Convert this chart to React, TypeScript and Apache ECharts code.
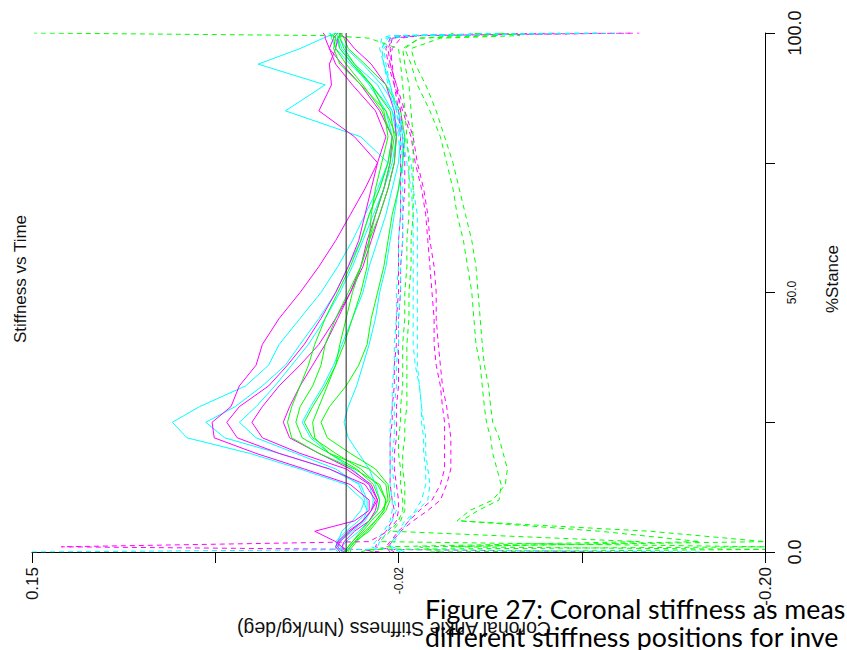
import React, { useEffect, useRef } from "react";
import * as echarts from "echarts";

// % stance sample positions shared by every trace
const STANCE = [0, 0.5, 1, 2, 4, 6, 8, 10, 13, 16, 19, 22, 25, 28, 32, 36, 40, 45, 50, 55, 60, 65, 70, 75, 80, 85, 90, 94, 97, 99, 99.5, 100];

const X_TICKS = [0.15, 0.0625, -0.025, -0.1125, -0.2];
const X_LABEL_VALUES = [0.15, -0.025, -0.2];
const X_LABELS = ["0.15", "-0.02", "-0.20"];
const X_LABEL_STYLE = ["big", "small", "big"];
const Y_LABEL_VALUES = [0, 50, 100];
const Y_LABELS = ["0.0", "50.0", "100.0"];
const Y_LABEL_STYLE = ["big", "small", "big"];

// Solid traces (Coronal ankle stiffness, Nm/kg/deg)
const CYAN_SOLID = [
  [0.004, 0.005, 0.005, 0.004, -0.002, -0.008, -0.010, -0.008, 0.000, 0.022, 0.046, 0.076, 0.083, 0.070, 0.048, 0.037, 0.032, 0.022, 0.012, 0.004, -0.003, -0.009, -0.015, -0.020, -0.022, -0.019, -0.011, -0.003, 0.003, 0.005, 0.006, 0.008],
  [0.002, 0.003, 0.004, 0.005, 0.000, -0.006, -0.010, -0.010, -0.007, 0.008, 0.032, 0.058, 0.067, 0.053, 0.040, 0.029, 0.022, 0.013, 0.005, -0.001, -0.007, -0.011, -0.016, -0.020, -0.007, 0.029, 0.010, 0.042, 0.022, 0.011, 0.008, 0.005],
  [0.000, 0.001, 0.003, 0.004, 0.002, -0.003, -0.007, -0.009, -0.006, 0.005, 0.024, 0.043, 0.051, 0.043, 0.034, 0.026, 0.018, 0.010, 0.003, -0.003, -0.008, -0.013, -0.018, -0.022, -0.024, -0.022, -0.015, -0.004, 0.002, 0.004, 0.004, 0.005],
  [0.003, 0.004, 0.005, 0.003, -0.003, -0.009, -0.012, -0.013, -0.011, -0.003, 0.008, 0.017, 0.021, 0.017, 0.011, 0.006, 0.002, -0.003, -0.008, -0.011, -0.015, -0.019, -0.022, -0.025, -0.026, -0.022, -0.012, -0.002, 0.005, 0.007, 0.007, 0.008],
  [0.001, 0.002, 0.002, 0.000, -0.006, -0.011, -0.015, -0.016, -0.014, -0.011, -0.006, -0.001, 0.001, -0.001, -0.005, -0.008, -0.011, -0.014, -0.016, -0.019, -0.021, -0.023, -0.025, -0.027, -0.027, -0.025, -0.017, -0.008, 0.000, 0.003, 0.003, 0.004],
];
const MAGENTA_SOLID = [
  [0.000, 0.000, 0.002, 0.005, 0.015, -0.004, -0.011, -0.011, -0.002, 0.020, 0.043, 0.063, 0.064, 0.055, 0.051, 0.043, 0.040, 0.032, 0.022, 0.013, 0.005, -0.002, -0.009, -0.015, -0.019, -0.014, -0.003, 0.005, 0.008, 0.006, 0.005, 0.004],
  [0.001, 0.003, 0.004, 0.003, -0.002, -0.008, -0.012, -0.014, -0.009, 0.008, 0.032, 0.052, 0.057, 0.051, 0.037, 0.028, 0.020, 0.012, 0.005, -0.001, -0.006, -0.009, -0.012, -0.015, -0.004, 0.013, 0.007, 0.008, 0.005, 0.004, 0.003, 0.003],
  [0.003, 0.004, 0.005, 0.004, -0.001, -0.008, -0.012, -0.015, -0.012, -0.002, 0.013, 0.027, 0.030, 0.027, 0.022, 0.016, 0.010, 0.004, -0.002, -0.007, -0.010, -0.014, -0.018, -0.021, -0.022, -0.016, -0.007, 0.002, 0.008, 0.010, 0.010, 0.011],
  [0.000, 0.001, 0.002, 0.001, -0.004, -0.011, -0.014, -0.015, -0.011, 0.000, 0.022, 0.040, 0.045, 0.040, 0.032, 0.022, 0.013, 0.005, -0.002, -0.008, -0.012, -0.016, -0.020, -0.023, -0.024, -0.023, -0.019, -0.012, -0.004, 0.000, 0.002, 0.003],
];
const GREEN_SOLID = [
  [0.000, -0.001, -0.002, -0.004, -0.009, -0.014, -0.018, -0.019, -0.016, -0.004, 0.013, 0.026, 0.028, 0.026, 0.022, 0.018, 0.015, 0.010, 0.004, -0.002, -0.007, -0.011, -0.016, -0.020, -0.022, -0.017, -0.008, 0.000, 0.005, 0.006, 0.006, 0.005],
  [0.000, 0.000, -0.001, -0.003, -0.008, -0.012, -0.017, -0.020, -0.019, -0.011, 0.008, 0.021, 0.024, 0.022, 0.016, 0.012, 0.010, 0.005, -0.001, -0.007, -0.011, -0.016, -0.020, -0.023, -0.024, -0.019, -0.007, 0.003, 0.006, 0.005, 0.005, 0.004],
  [-0.002, -0.002, -0.003, -0.005, -0.010, -0.014, -0.018, -0.019, -0.015, -0.007, 0.005, 0.016, 0.020, 0.016, 0.010, 0.005, 0.003, 0.000, -0.003, -0.007, -0.011, -0.014, -0.018, -0.021, -0.023, -0.021, -0.012, -0.003, 0.003, 0.004, 0.003, 0.003],
  [-0.001, -0.001, -0.002, -0.004, -0.011, -0.015, -0.019, -0.021, -0.020, -0.014, -0.002, 0.009, 0.012, 0.008, 0.000, -0.006, -0.010, -0.012, -0.015, -0.018, -0.020, -0.022, -0.025, -0.027, -0.028, -0.026, -0.019, -0.009, -0.001, 0.001, 0.002, 0.002],
  [0.001, 0.000, -0.001, -0.003, -0.007, -0.011, -0.015, -0.016, -0.013, -0.005, 0.008, 0.015, 0.016, 0.013, 0.009, 0.005, 0.001, -0.003, -0.007, -0.010, -0.011, -0.012, -0.014, -0.017, -0.020, -0.018, -0.012, -0.004, 0.001, 0.003, 0.003, 0.002],
];

// Dashed traces
const MAGENTA_DASHED = [
  [-0.016, -0.007, 0.136, -0.011, -0.020, -0.024, -0.025, -0.025, -0.024, -0.023, -0.023, -0.024, -0.024, -0.024, -0.025, -0.025, -0.025, -0.025, -0.026, -0.026, -0.027, -0.027, -0.028, -0.028, -0.027, -0.026, -0.024, -0.021, -0.022, -0.026, -0.035, -0.140],
  [-0.131, -0.021, -0.014, -0.015, -0.019, -0.022, -0.023, -0.022, -0.021, -0.021, -0.021, -0.021, -0.022, -0.022, -0.023, -0.023, -0.024, -0.024, -0.025, -0.025, -0.025, -0.026, -0.026, -0.026, -0.026, -0.025, -0.023, -0.022, -0.021, -0.022, -0.026, -0.102],
  [-0.023, -0.021, -0.020, -0.022, -0.026, -0.032, -0.039, -0.045, -0.048, -0.050, -0.050, -0.050, -0.049, -0.048, -0.046, -0.045, -0.044, -0.043, -0.043, -0.042, -0.040, -0.039, -0.037, -0.034, -0.032, -0.028, -0.024, -0.021, -0.020, -0.022, -0.035, -0.136],
  [-0.021, -0.020, -0.019, -0.021, -0.025, -0.030, -0.035, -0.041, -0.045, -0.047, -0.047, -0.047, -0.047, -0.046, -0.045, -0.043, -0.042, -0.042, -0.041, -0.040, -0.039, -0.038, -0.036, -0.033, -0.031, -0.027, -0.023, -0.020, -0.019, -0.021, -0.031, -0.121],
];
const CYAN_DASHED = [
  [0.150, -0.016, -0.012, -0.014, -0.018, -0.021, -0.022, -0.022, -0.021, -0.021, -0.021, -0.021, -0.021, -0.022, -0.022, -0.023, -0.023, -0.024, -0.024, -0.025, -0.025, -0.026, -0.026, -0.026, -0.025, -0.023, -0.020, -0.018, -0.017, -0.020, -0.026, -0.131],
  [-0.169, -0.019, -0.015, -0.016, -0.020, -0.022, -0.024, -0.023, -0.023, -0.022, -0.022, -0.023, -0.023, -0.023, -0.024, -0.024, -0.025, -0.025, -0.026, -0.026, -0.027, -0.027, -0.027, -0.027, -0.026, -0.024, -0.021, -0.019, -0.018, -0.022, -0.035, -0.073],
  [-0.026, -0.023, -0.021, -0.022, -0.025, -0.028, -0.034, -0.039, -0.040, -0.039, -0.038, -0.038, -0.037, -0.036, -0.035, -0.034, -0.034, -0.034, -0.034, -0.034, -0.034, -0.034, -0.032, -0.031, -0.028, -0.025, -0.021, -0.018, -0.017, -0.019, -0.026, -0.121],
  [-0.028, -0.025, -0.022, -0.023, -0.026, -0.030, -0.033, -0.036, -0.038, -0.038, -0.037, -0.037, -0.036, -0.036, -0.035, -0.033, -0.032, -0.032, -0.032, -0.032, -0.032, -0.032, -0.031, -0.029, -0.027, -0.024, -0.021, -0.018, -0.016, -0.017, -0.021, -0.112],
];
const GREEN_DASHED = [
  [-0.007, -0.011, -0.200, -0.016, -0.021, -0.025, -0.027, -0.027, -0.026, -0.026, -0.025, -0.025, -0.026, -0.026, -0.027, -0.027, -0.027, -0.028, -0.028, -0.029, -0.029, -0.030, -0.030, -0.030, -0.029, -0.028, -0.027, -0.026, -0.025, -0.011, 0.008, 0.149],
  [-0.011, -0.016, -0.019, -0.140, -0.022, -0.026, -0.028, -0.028, -0.028, -0.027, -0.027, -0.028, -0.028, -0.029, -0.029, -0.029, -0.029, -0.030, -0.030, -0.031, -0.031, -0.032, -0.032, -0.032, -0.032, -0.031, -0.030, -0.028, -0.027, -0.035, -0.073, -0.059],
  [-0.045, -0.040, -0.035, -0.200, -0.145, -0.053, -0.059, -0.070, -0.076, -0.077, -0.075, -0.073, -0.070, -0.069, -0.068, -0.066, -0.065, -0.064, -0.063, -0.062, -0.060, -0.057, -0.054, -0.051, -0.047, -0.043, -0.038, -0.033, -0.031, -0.045, -0.083, -0.073],
  [-0.040, -0.200, -0.050, -0.169, -0.121, -0.055, -0.063, -0.073, -0.074, -0.072, -0.070, -0.069, -0.067, -0.066, -0.065, -0.064, -0.062, -0.061, -0.060, -0.058, -0.056, -0.053, -0.051, -0.048, -0.045, -0.040, -0.034, -0.031, -0.028, -0.035, -0.054, -0.050],
];

const REFERENCE_LINE = [[0, 0], [0, 100]];

const CAPTION_LINES = ["Figure 27: Coronal stiffness as meas", "different stiffness positions for inve"];

const MAGENTA = "#ff00ff";
const CYAN = "#00ffff";
const GREEN = "#00ff00";
const FONT = "Liberation Sans, Arial, sans-serif";

function makeSeries(group: number[][], color: string, dashed: boolean, prefix: string) {
  return group.map((vals, k) => ({
    name: `${prefix}${k + 1}`,
    type: "line",
    showSymbol: false,
    symbol: "none",
    silent: true,
    data: vals.map((v, i) => [v, STANCE[i]]),
    lineStyle: { color, width: 1, type: dashed ? [5, 4] : "solid" },
  }));
}

export default function App() {
  const ref = useRef<HTMLDivElement>(null);
  useEffect(() => {
    if (!ref.current) return;
    const chart = echarts.init(ref.current, undefined, { renderer: "svg" });
    const series: any[] = [
      ...makeSeries(CYAN_SOLID, CYAN, false, "cyan"),
      ...makeSeries(MAGENTA_SOLID, MAGENTA, false, "magenta"),
      ...makeSeries(GREEN_SOLID, GREEN, false, "green"),
      ...makeSeries(MAGENTA_DASHED, MAGENTA, true, "magentaDash"),
      ...makeSeries(CYAN_DASHED, CYAN, true, "cyanDash"),
      ...makeSeries(GREEN_DASHED, GREEN, true, "greenDash"),
      {
        name: "zero",
        type: "line",
        showSymbol: false,
        symbol: "none",
        silent: true,
        data: REFERENCE_LINE,
        lineStyle: { color: "#222", width: 1 },
      },
    ];
    const rich = {
      big: { fontSize: 17, fontFamily: FONT, color: "#111" },
      small: { fontSize: 12, fontFamily: FONT, color: "#111" },
    };
    const yRich = {
      big: { fontSize: 18, fontFamily: FONT, color: "#111" },
      small: { fontSize: 12, fontFamily: FONT, color: "#111" },
    };
    chart.setOption({
      animation: false,
      backgroundColor: "#fff",
      grid: { left: 32, right: 82, top: 33, bottom: 98, containLabel: false },
      xAxis: {
        type: "value",
        min: -0.2,
        max: 0.15,
        inverse: true,
        axisLine: { show: true, onZero: false, lineStyle: { color: "#000", width: 1 } },
        axisTick: { show: true, length: 11, lineStyle: { color: "#000", width: 1 }, customValues: X_TICKS },
        axisLabel: {
          customValues: X_LABEL_VALUES,
          rotate: 90,
          margin: 15,
          formatter: (v: number) => {
            const i = X_LABEL_VALUES.findIndex((t) => Math.abs(t - v) < 1e-9);
            return i < 0 ? "" : `{${X_LABEL_STYLE[i]}|${X_LABELS[i]}}`;
          },
          rich,
        },
        splitLine: { show: false },
      },
      yAxis: {
        type: "value",
        min: 0,
        max: 100,
        interval: 25,
        position: "right",
        axisLine: { show: true, onZero: false, lineStyle: { color: "#000", width: 1 } },
        axisTick: { show: true, length: 10, lineStyle: { color: "#000", width: 1 } },
        axisLabel: {
          rotate: 90,
          margin: 21,
          formatter: (v: number) => {
            const i = Y_LABEL_VALUES.findIndex((t) => Math.abs(t - v) < 1e-9);
            return i < 0 ? "" : `{${Y_LABEL_STYLE[i]}|${Y_LABELS[i]}}`;
          },
          rich: yRich,
        },
        splitLine: { show: false },
      },
      series,
      graphic: [
        {
          type: "text",
          x: 20,
          y: 279,
          rotation: Math.PI / 2,
          style: { text: "Stiffness vs Time", fontSize: 17, fontFamily: FONT, fill: "#111", align: "center", verticalAlign: "middle" },
        },
        {
          type: "text",
          x: 832,
          y: 279,
          rotation: Math.PI / 2,
          style: { text: "%Stance", fontSize: 17, fontFamily: FONT, fill: "#111", align: "center", verticalAlign: "middle" },
        },
        {
          type: "text",
          x: 394,
          y: 629,
          rotation: Math.PI,
          style: { text: "Coronal Ankle Stiffness (Nm/kg/deg)", fontSize: 19.5, fontFamily: FONT, fill: "#111", align: "center", verticalAlign: "middle" },
        },
        {
          type: "text",
          x: 425,
          y: 609,
          z: 100,
          style: { text: CAPTION_LINES[0], fontSize: 26.7, fontFamily: "Lato, Open Sans, sans-serif", fill: "#000", align: "left", verticalAlign: "middle" },
        },
        {
          type: "text",
          x: 425,
          y: 637,
          z: 100,
          style: { text: CAPTION_LINES[1], fontSize: 26.7, fontFamily: "Lato, Open Sans, sans-serif", fill: "#000", align: "left", verticalAlign: "middle" },
        },
      ],
    });
    return () => chart.dispose();
  }, []);
  return (
    <div
      ref={ref}
      style={{ position: "fixed", left: 0, top: 0, width: 847, height: 650, background: "#fff" }}
    />
  );
}
